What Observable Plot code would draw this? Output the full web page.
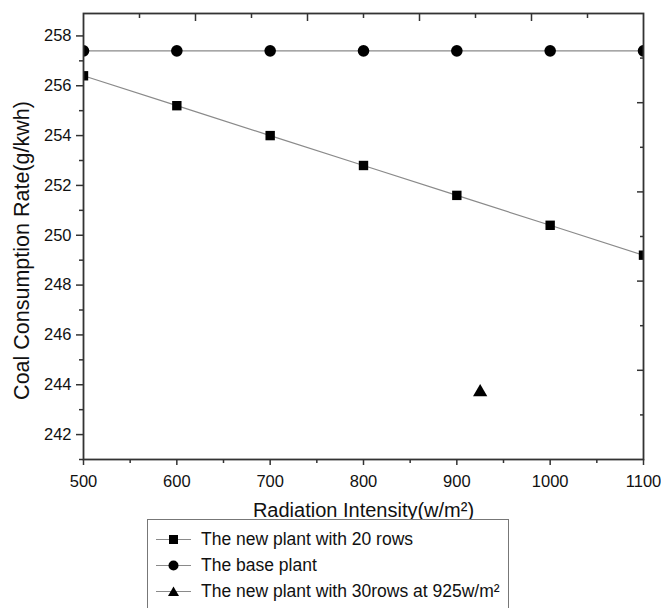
<!DOCTYPE html>
<html>
<head>
<meta charset="utf-8">
<script src="https://cdn.jsdelivr.net/npm/d3@7"></script>
<script src="https://cdn.jsdelivr.net/npm/@observablehq/plot@0.6"></script>
<style>
  html, body { margin: 0; padding: 0; background: #fff; }
  body { width: 661px; height: 608px; overflow: hidden; position: relative; font-family: "Liberation Sans", Arial, sans-serif; }
  #chart { position: absolute; left: 0; top: 0; }
  #legend { position: absolute; left: 147px; top: 519px; width: 362px; height: 100px; border: 1px solid #777; box-sizing: border-box; background: #fff; }
  .row { position: absolute; left: 6px; height: 22px; display: flex; align-items: center; font-size: 17.5px; color: #111; white-space: nowrap; }
  .row svg { margin-right: 8px; }
</style>
</head>
<body>
<div id="chart"></div>
<div id="legend"></div>
<script>
// ---- data ----
const radiation = [500, 600, 700, 800, 900, 1000, 1100];
const newPlant20Rows = [256.4, 255.2, 254.0, 252.8, 251.6, 250.4, 249.2];
const basePlant = [257.4, 257.4, 257.4, 257.4, 257.4, 257.4, 257.4];
const newPlant30RowsX = [925];
const newPlant30RowsY = [243.7];
const xMajorTicks = [500, 600, 700, 800, 900, 1000, 1100];
const xMinorTicks = [550, 650, 750, 850, 950, 1050];
const yMajorTicks = [242, 244, 246, 248, 250, 252, 254, 256, 258];
const yMinorTicks = [241, 243, 245, 247, 249, 251, 253, 255, 257];
const seriesNames = ["The new plant with 20 rows", "The base plant", "The new plant with 30rows at 925w/m²"];
const seriesSymbols = ["square", "circle", "triangle"];

const xDomain = [500, 1100];
const yDomain = [241, 258.9];

const s20 = radiation.map((x, i) => ({x, y: newPlant20Rows[i]}));
const sBase = radiation.map((x, i) => ({x, y: basePlant[i]}));
const s30 = newPlant30RowsX.map((x, i) => ({x, y: newPlant30RowsY[i]}));

// frame-aligned ticks on top/right (10 equal divisions, as in the original)
const topTicks = d3.range(0, 11).map(i => xDomain[0] + (xDomain[1] - xDomain[0]) * i / 10);
const rightTicks = d3.range(0, 11).map(i => yDomain[0] + (yDomain[1] - yDomain[0]) * i / 10);
const topMajor = topTicks.filter((d, i) => i % 2 === 0 && i > 0 && i < 10);
const topMinor = topTicks.filter((d, i) => i % 2 === 1);
const rightMajor = rightTicks.filter((d, i) => i % 2 === 0 && i > 0 && i < 10);
const rightMinor = rightTicks.filter((d, i) => i % 2 === 1);

const axisColor = "#333";
const lineColor = "#8a8a8a";
const noLabel = () => "";

const chart = Plot.plot({
  width: 661,
  height: 521,
  marginLeft: 83,
  marginRight: 18,
  marginTop: 13,
  marginBottom: 62,
  style: {fontFamily: "Liberation Sans, Arial, sans-serif", fontSize: "16px", color: "#111", background: "#fff"},
  x: {domain: xDomain},
  y: {domain: yDomain},
  marks: [
    // bottom axis
    Plot.axisX({anchor: "bottom", ticks: xMinorTicks, tickSize: 4, tickFormat: noLabel, stroke: axisColor, strokeWidth: 1.5, label: null}),
    Plot.axisX({anchor: "bottom", ticks: xMajorTicks, tickSize: 6, tickPadding: 10, tickFormat: d => String(d), stroke: axisColor, strokeWidth: 1.5, label: null, fill: "#111", fontSize: 16.5}),
    // left axis
    Plot.axisY({anchor: "left", ticks: yMinorTicks, tickSize: 4, tickFormat: noLabel, stroke: axisColor, strokeWidth: 1.5, label: null}),
    Plot.axisY({anchor: "left", ticks: yMajorTicks, tickSize: 7, tickPadding: 5, tickFormat: d => String(d), stroke: axisColor, strokeWidth: 1.5, label: null, fill: "#111", fontSize: 16.5}),
    // top axis (inward ticks)
    Plot.axisX({anchor: "top", ticks: topMinor, tickSize: 4, dy: 4, tickFormat: noLabel, stroke: axisColor, strokeWidth: 1.5, label: null}),
    Plot.axisX({anchor: "top", ticks: topMajor, tickSize: 7, dy: 7, tickFormat: noLabel, stroke: axisColor, strokeWidth: 1.5, label: null}),
    // right axis (inward ticks)
    Plot.axisY({anchor: "right", ticks: rightMinor, tickSize: 4, dx: -4, tickFormat: noLabel, stroke: axisColor, strokeWidth: 1.5, label: null}),
    Plot.axisY({anchor: "right", ticks: rightMajor, tickSize: 7, dx: -7, tickFormat: noLabel, stroke: axisColor, strokeWidth: 1.5, label: null}),
    // series
    Plot.line(sBase, {x: "x", y: "y", stroke: lineColor, strokeWidth: 1.2, clip: true}),
    Plot.line(s20, {x: "x", y: "y", stroke: lineColor, strokeWidth: 1.2, clip: true}),
    Plot.dot(sBase, {x: "x", y: "y", symbol: "circle", r: 5.8, fill: "#000", stroke: "none", clip: true}),
    Plot.dot(s20, {x: "x", y: "y", symbol: "square", r: 5.3, fill: "#000", stroke: "none", clip: true}),
    Plot.dot(s30, {x: "x", y: "y", symbol: "triangle", r: 5.3, fill: "#000", stroke: "none", clip: true}),
    Plot.frame({stroke: axisColor, strokeWidth: 1.8}),
    // axis titles
    Plot.text(["Radiation Intensity(w/m²)"], {frameAnchor: "bottom", dy: 57, text: d => d, fontSize: 20, fill: "#111"}),
    Plot.text(["Coal Consumption Rate(g/kwh)"], {frameAnchor: "left", dx: -61, dy: 14, rotate: -90, textAnchor: "middle", lineAnchor: "middle", text: d => d, fontSize: 21.5, fill: "#111"})
  ]
});
document.getElementById("chart").appendChild(chart);

// legend
const legend = document.getElementById("legend");
const symbolPath = {
  square: '<rect x="15" y="6" width="9" height="9" fill="#000"/>',
  circle: '<circle cx="19.5" cy="10.5" r="5" fill="#000"/>',
  triangle: '<path d="M19.5,5.5 L25,15 L14,15 Z" fill="#000"/>'
};
seriesNames.forEach((name, i) => {
  const row = document.createElement("div");
  row.className = "row";
  row.style.top = (8 + i * 26) + "px";
  row.innerHTML = `<svg width="39" height="21"><line x1="2" y1="10.5" x2="37" y2="10.5" stroke="${lineColor}" stroke-width="1.2"/>${symbolPath[seriesSymbols[i]]}</svg><span>${name}</span>`;
  legend.appendChild(row);
});
</script>
</body>
</html>
